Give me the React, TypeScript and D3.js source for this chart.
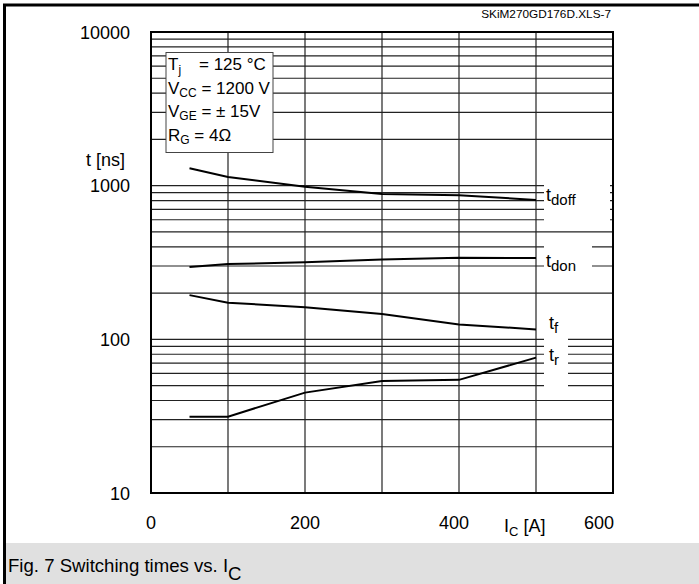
import React from "react";
import * as d3 from "d3";

// Collector current (A) at which each switching time was measured
const currents = [50, 100, 200, 300, 400, 500];
// Switching times in ns
const tdoff = [1300, 1140, 985, 883, 865, 808];
const tdon = [296, 309, 317, 331, 340, 338];
const tf = [194, 173, 162, 146, 125, 116];
const tr = [31.4, 31.4, 45, 53.5, 54.5, 76];

const xTicks = [0, 200, 400, 600];
const yTicks = [10, 100, 1000, 10000];
const xGrid = [0, 100, 200, 300, 400, 500, 600];

const W = 699;
const H = 584;
const FONT = "'Liberation Sans', Arial, sans-serif";

export default function App() {
  const x = d3.scaleLinear().domain([0, 600]).range([151, 613]);
  const y = d3.scaleLog().domain([10, 10000]).range([493, 32]);

  // full log grid: 1..9 in each decade
  const yGrid: number[] = [];
  [10, 100, 1000].forEach((d) => {
    for (let k = 1; k < 10; k++) yGrid.push(d * k);
  });
  yGrid.push(10000);

  const line = d3
    .line<number>()
    .x((_, i) => x(currents[i]))
    .y((v) => y(v));

  const series = [tdoff, tdon, tf, tr];

  // white patches behind the curve names on the right
  const labelBoxes = [
    { x0: 544, x1: 610, y0: 182, y1: 226 },
    { x0: 544, x1: 592, y0: 240, y1: 284 },
    { x0: 544, x1: 568, y0: 298, y1: 393 },
  ];

  // the 400 and 600 labels sit a little left to make room for the axis title
  const labelOffsets: Record<number, number> = { 0: 0, 200: 0, 400: -5, 600: -14 };

  return (
    <svg
      width={W}
      height={H}
      style={{ position: "absolute", left: 0, top: 0, background: "#fff" }}
      fontFamily={FONT}
    >
      {/* outer frame */}
      <line x1={4.5} x2={4.5} y1={4} y2={H} stroke="#000" strokeWidth={3} />
      <line x1={3} x2={W} y1={5} y2={5} stroke="#000" strokeWidth={3} />

      <text x={611} y={18} fontSize={11.8} textAnchor="end" fill="#000">
        SKiM270GD176D.XLS-7
      </text>

      {/* grid */}
      {yGrid.map((v) => (
        <line
          key={"h" + v}
          x1={x(0)}
          x2={x(600)}
          y1={y(v)}
          y2={y(v)}
          stroke="#222"
          strokeWidth={1.2}
        />
      ))}
      {labelBoxes.map((b, i) => (
        <rect key={"lb" + i} x={b.x0} y={b.y0} width={b.x1 - b.x0} height={b.y1 - b.y0} fill="#fff" />
      ))}
      {xGrid.map((v) => (
        <line
          key={"v" + v}
          x1={x(v)}
          x2={x(v)}
          y1={y(10000)}
          y2={y(10)}
          stroke="#222"
          strokeWidth={1.2}
        />
      ))}

      {/* condition box */}
      <rect x={166} y={52.5} width={107} height={100} fill="#fff" stroke="#444" strokeWidth={1} />
      <g fontSize={17} fill="#000">
        <text x={168} y={70}>
          T<tspan fontSize={12} dy={4}>j</tspan>
          <tspan x={199} dy={-4}>= 125 °C</tspan>
        </text>
        <text x={168} y={94}>
          V<tspan fontSize={12} dy={3}>CC</tspan>
          <tspan dy={-3}> = 1200 V</tspan>
        </text>
        <text x={168} y={117}>
          V<tspan fontSize={12} dy={3}>GE</tspan>
          <tspan dy={-3}> = ± 15V</tspan>
        </text>
        <text x={168} y={141}>
          R<tspan fontSize={12} dy={3}>G</tspan>
          <tspan dy={-3}> = 4Ω</tspan>
        </text>
      </g>

      {/* curves */}
      {series.map((s, i) => (
        <path key={"s" + i} d={line(s) || ""} fill="none" stroke="#000" strokeWidth={2} />
      ))}

      {/* plot border */}
      <rect
        x={x(0)}
        y={y(10000)}
        width={x(600) - x(0)}
        height={y(10) - y(10000)}
        fill="none"
        stroke="#000"
        strokeWidth={2}
      />

      {/* curve names */}
      <g fontSize={18} fill="#000">
        <text x={546} y={201}>
          t<tspan fontSize={15} dy={4}>doff</tspan>
        </text>
        <text x={546} y={267}>
          t<tspan fontSize={15} dy={4}>don</tspan>
        </text>
        <text x={549} y={329}>
          t<tspan fontSize={15} dy={4}>f</tspan>
        </text>
        <text x={549} y={361}>
          t<tspan fontSize={15} dy={4}>r</tspan>
        </text>
      </g>

      {/* axis labels */}
      <g fontSize={18} fill="#000">
        {yTicks.map((v) => (
          <text key={"yt" + v} x={130} y={y(v) + 6.5} textAnchor="end">
            {v}
          </text>
        ))}
        <text x={125} y={166} textAnchor="end">
          t [ns]
        </text>
        {xTicks.map((v) => (
          <text key={"xt" + v} x={x(v) + labelOffsets[v]} y={529} textAnchor="middle">
            {v}
          </text>
        ))}
        <text x={504} y={532}>
          I<tspan fontSize={13} dy={4}>C</tspan>
          <tspan dy={-4}> [A]</tspan>
        </text>
      </g>

      {/* caption */}
      <rect x={6} y={543} width={W - 6} height={H - 543} fill="#e0e0e0" />
      <text x={8} y={572} fontSize={18.6} fill="#000">
        Fig. 7 Switching times vs. I<tspan dy={8}>C</tspan>
      </text>
    </svg>
  );
}
